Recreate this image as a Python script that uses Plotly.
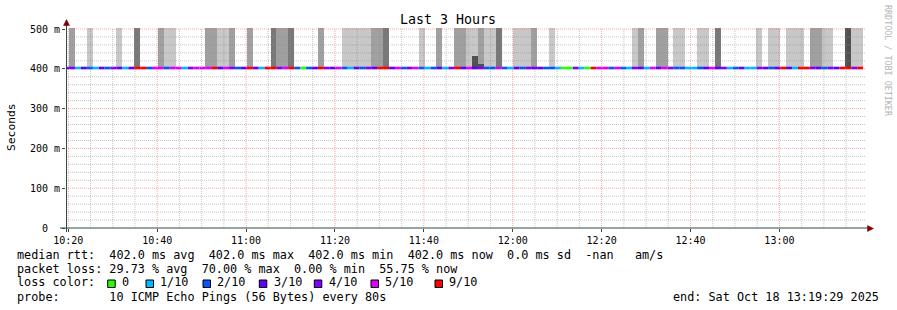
import plotly.graph_objects as go
from datetime import datetime, timedelta

# ---------------- data ----------------
FIRST_SAMPLE = "2025-10-18 10:18:50"      # start of first (partly visible) sample
STEP_SECONDS = 80
RANGE_START = "2025-10-18 10:19:29"
RANGE_END = "2025-10-18 13:19:29"

# lost pings (out of 10) per sample -> colour of median line
loss_tenths = [
    3, 4, 1, 3, 2, 1, 3, 2, 4, 3,
    1, 3, 7, 6, 2, 5, 5, 2, 5, 5,
    1, 4, 5, 5, 5, 6, 3, 5, 4, 2,
    3, 6, 3, 1, 7, 6, 4, 5, 6, 2,
    0, 2, 3, 6, 4, 3, 5, 2, 1, 3,
    2, 4, 3, 7, 6, 3, 5, 2, 4, 5,
    2, 1, 2, 3, 1, 4, 6, 3, 5, 3,
    4, 2, 2, 5, 2, 1, 3, 2, 4, 3,
    3, 2, 2, 1, 0, 0, 4, 1, 0, 7,
    5, 5, 2, 5, 2, 1, 4, 3, 1, 5,
    3, 5, 4, 2, 2, 1, 1, 2, 3, 5,
    3, 4, 1, 2, 3, 1, 1, 4, 3, 2,
    3, 6, 3, 1, 7, 6, 4, 3, 2, 4,
    3, 7, 6, 4, 6,
]
median_rtt_ms = [402.0] * len(loss_tenths)

# smoke shade per sample (0 none, 1 light, 2 medium, 3 dark, 4 very dark)
smoke_level = [
    0, 2, 0, 0, 1, 0, 0, 0, 0, 1,
    0, 0, 3, 0, 0, 0, 2, 1, 1, 0,
    0, 0, 0, 0, 2, 2, 1, 1, 2, 0,
    0, 2, 0, 0, 0, 3, 2, 2, 3, 0,
    0, 0, 0, 2, 0, 0, 0, 1, 1, 1,
    1, 1, 2, 2, 3, 0, 0, 0, 0, 0,
    1, 0, 0, 2, 0, 0, 2, 2, 1, 1,
    2, 1, 1, 3, 0, 0, 1, 1, 1, 2,
    0, 0, 1, 0, 0, 0, 0, 0, 0, 0,
    0, 0, 0, 0, 0, 0, 1, 2, 0, 0,
    2, 2, 0, 1, 1, 0, 0, 1, 1, 0,
    3, 0, 0, 0, 0, 0, 0, 1, 0, 1,
    1, 0, 1, 1, 1, 0, 2, 2, 1, 1,
    0, 0, 4, 1, 1,
]
smoke_top_ms = 502.5
# very dark core of the smoke (top value) where present
smoke_core_top_ms = [None] * len(loss_tenths)
smoke_core_top_ms[69] = 432.0
smoke_core_top_ms[70] = 412.0

loss_labels = ["0", "1/10", "2/10", "3/10", "4/10", "5/10", "9/10"]
loss_colors = ["#26ff00", "#00b8ff", "#0059ff", "#5e00ff", "#7e00ff", "#dd00ff", "#ff0000"]
smoke_colors = {1: "#c8c8c8", 2: "#a0a0a0", 3: "#787878", 4: "#505050"}

y_ticks = [0, 100, 200, 300, 400, 500]
y_ticktext = ["0\u00a0\u00a0", "100 m", "200 m", "300 m", "400 m", "500 m"]

legend_rows = [
    "median rtt:  402.0 ms avg  402.0 ms max  402.0 ms min  402.0 ms now  0.0 ms sd  -nan   am/s",
    "packet loss: 29.73 % avg  70.00 % max  0.00 % min  55.75 % now",
]
probe_text = "probe:       10 ICMP Echo Pings (56 Bytes) every 80s"
end_text = "end: Sat Oct 18 13:19:29 2025"
title_text = "Last 3 Hours"

# ---------------- figure ----------------
W, H = 897, 310
L, R, T, B = 66, 31, 28, 82
PW, PH = W - L - R, H - T - B
MONO = "DejaVu Sans Mono"


def px(x):
    return (x - L) / PW


def py(y):
    return (T + PH - y) / PH


def loss_color(n):
    if n == 0:
        return loss_colors[0]
    if n <= 4:
        return loss_colors[n]
    if n == 5:
        return loss_colors[5]
    return loss_colors[6]


t0 = datetime.strptime(FIRST_SAMPLE, "%Y-%m-%d %H:%M:%S")
step = timedelta(seconds=STEP_SECONDS)
starts = [t0 + i * step for i in range(len(loss_tenths))]
centers = [s + step / 2 for s in starts]

fig = go.Figure()

# smoke bars
sx, sy, sc = [], [], []
for c, lvl, m in zip(centers, smoke_level, median_rtt_ms):
    if lvl:
        sx.append(c)
        sy.append(smoke_top_ms - m)
        sc.append(smoke_colors[lvl])
fig.add_trace(go.Bar(x=sx, y=sy, base=median_rtt_ms[0], width=STEP_SECONDS * 1000,
                     marker=dict(color=sc, line=dict(width=0)), hoverinfo="skip"))
cx, cy = [], []
for c, top, m in zip(centers, smoke_core_top_ms, median_rtt_ms):
    if top is not None:
        cx.append(c)
        cy.append(top - m)
fig.add_trace(go.Bar(x=cx, y=cy, base=median_rtt_ms[0], width=STEP_SECONDS * 1000,
                     marker=dict(color=smoke_colors[4], line=dict(width=0)), hoverinfo="skip"))

# median line coloured by loss
groups = {}
for s, n, m in zip(starts, loss_tenths, median_rtt_ms):
    col = loss_color(n)
    g = groups.setdefault(col, ([], []))
    g[0].extend([s, s + step, None])
    g[1].extend([m, m, None])
for col, (gx, gy) in groups.items():
    fig.add_trace(go.Scatter(x=gx, y=gy, mode="lines", line=dict(color=col, width=2.6),
                             hoverinfo="skip"))

shapes = []
# grid (drawn above the data like rrdtool)
minor_c = "rgba(140,140,140,0.5)"
major_c = "rgba(255,91,91,0.55)"
rs = datetime.strptime(RANGE_START, "%Y-%m-%d %H:%M:%S")
re_ = datetime.strptime(RANGE_END, "%Y-%m-%d %H:%M:%S")
tg = rs.replace(second=0) + timedelta(minutes=1)
while tg.minute % 5:
    tg += timedelta(minutes=1)
vmin, vmaj = [], []
while tg < re_:
    (vmaj if tg.minute % 20 == 0 else vmin).append(tg)
    tg += timedelta(minutes=5)
hmin = [v for v in range(20, 501, 20) if v % 100]
hmaj = [v for v in range(100, 501, 100)]
for lst, col in ((vmin, minor_c), (vmaj, major_c)):
    for t in lst:
        shapes.append(dict(type="line", xref="x", yref="paper", x0=t, x1=t, y0=0, y1=1,
                           line=dict(color=col, width=1, dash="1px,1px"), layer="above"))
for lst, col in ((hmin, minor_c), (hmaj, major_c)):
    for v in lst:
        # the line at the median level sits under the median trace
        lay = "below" if abs(v - median_rtt_ms[0]) < 5 else "above"
        shapes.append(dict(type="line", xref="paper", yref="y", x0=0, x1=1, y0=v, y1=v,
                           line=dict(color=col, width=1, dash="1px,1px"), layer=lay))

# axes lines + arrows
AX = "#2C4D43"
ARROW = "#7F0000"
shapes.append(dict(type="line", xref="paper", yref="paper", x0=px(60), x1=px(869),
                   y0=0, y1=0, line=dict(color=AX, width=1), layer="above"))
shapes.append(dict(type="line", xref="paper", yref="paper", x0=px(66.5), x1=px(66.5),
                   y0=py(232), y1=py(24), line=dict(color=AX, width=1), layer="above"))
shapes.append(dict(type="path", xref="paper", yref="paper", layer="above",
                   path=f"M {px(63.5)},{py(25.5)} L {px(69.5)},{py(25.5)} L {px(66.5)},{py(19.5)} Z",
                   fillcolor=ARROW, line=dict(color=ARROW, width=0.5)))
shapes.append(dict(type="path", xref="paper", yref="paper", layer="above",
                   path=f"M {px(867.5)},{py(225.5)} L {px(867.5)},{py(231.5)} L {px(873.5)},{py(228.5)} Z",
                   fillcolor=ARROW, line=dict(color=ARROW, width=0.5)))

annotations = []


def text(x, y, s, size, xanchor="left", color="#000000", angle=0):
    annotations.append(dict(x=px(x), y=py(y), xref="paper", yref="paper", text=s.replace(" ", "\u00a0"),
                            showarrow=False, xanchor=xanchor, yanchor="middle", textangle=angle,
                            font=dict(family=MONO, size=size, color=color)))


LEG = 11.8
text(448, 20, title_text, 13.3, xanchor="center")
text(11, 127, "Seconds", 11.3, xanchor="center", angle=-90)
text(888, 61, "RRDTOOL / TOBI OETIKER", 8.4, xanchor="center", color="#b4b4b4", angle=90)
text(15, 254.5, legend_rows[0], LEG)
text(15, 268.5, legend_rows[1], LEG)
text(15, 282, "loss color:", LEG)
sq_x = [107.7, 146, 203, 259.3, 314.3, 371, 435]
for sx_, lab, col in zip(sq_x, loss_labels, loss_colors):
    shapes.append(dict(type="rect", xref="paper", yref="paper", x0=px(sx_), x1=px(sx_ + 7.5),
                       y0=py(287.5), y1=py(280), fillcolor=col, line=dict(color="#000000", width=1)))
    text(sx_ + 12.3, 282, lab, LEG)
text(15, 296.5, probe_text, LEG)
text(881, 296.5, end_text, LEG, xanchor="right")

fig.update_layout(
    width=W, height=H, margin=dict(l=L, r=R, t=T, b=B),
    paper_bgcolor="#ffffff", plot_bgcolor="#ffffff",
    showlegend=False, barmode="overlay", bargap=0,
    shapes=shapes, annotations=annotations,
    xaxis=dict(type="date", range=[RANGE_START, RANGE_END], showgrid=False, zeroline=False,
               showline=False, tick0="2025-10-18 10:20:00", dtick=20 * 60 * 1000,
               tickformat="%H:%M", ticks="outside", ticklen=3, tickcolor=AX,
               tickfont=dict(family=MONO, size=10, color="#000000")),
    yaxis=dict(range=[0, smoke_top_ms], showgrid=False, zeroline=False, showline=False,
               tickvals=y_ticks, ticktext=y_ticktext, ticks="outside", ticklen=3, tickcolor=AX,
               tickfont=dict(family=MONO, size=10, color="#000000")),
)

fig.write_html("out.html")
